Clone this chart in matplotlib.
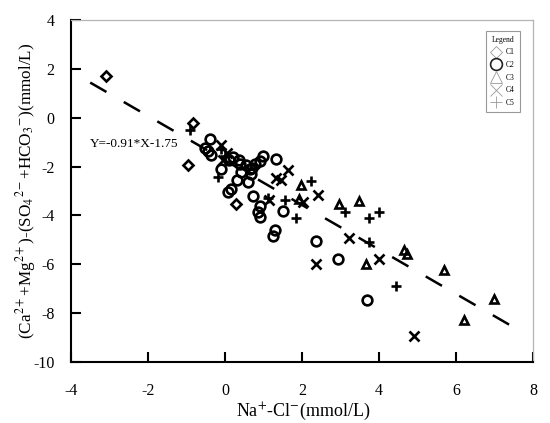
import numpy as np
import matplotlib
matplotlib.use("Agg")
import matplotlib.pyplot as plt
from matplotlib.lines import Line2D

plt.rcParams['font.family'] = ['Liberation Serif', 'DejaVu Serif']
plt.rcParams['mathtext.fontset'] = 'stix'
plt.rcParams['axes.unicode_minus'] = False

# Na+-Cl- (x) vs (Ca+Mg)-(SO4+HCO3) (y)
c1_x = [-3.10, -0.84, -0.95, 0.28]
c1_y = [1.72, -0.23, -1.93, -3.52]

c2_x = [-0.40, -0.53, -0.44, -0.35, 0.21, 0.36, 0.38, 0.42, 0.31, 0.60, 0.17,
        0.08, 0.68, 0.74, -0.09, 0.98, 0.90, 0.77, 1.33, 0.71, 0.10, 0.55,
        0.65, 0.90, 0.85, 0.90, 1.50, 1.29, 1.24, 2.37, 2.93, 3.68]
c2_y = [-0.86, -1.24, -1.37, -1.51, -1.60, -1.74, -1.90, -2.24, -2.55, -2.65, -2.92,
        -3.03, -2.31, -3.20, -2.09, -1.56, -1.76, -1.90, -1.69, -2.04, -1.75, -1.95,
        -2.10, -3.60, -3.85, -4.05, -3.81, -4.60, -4.84, -5.04, -5.77, -7.46]

c3_x = [1.98, 1.92, 2.95, 3.49, 4.66, 4.72, 3.66, 5.69, 6.99, 6.21]
c3_y = [-2.75, -3.33, -3.54, -3.43, -5.42, -5.56, -6.00, -6.24, -7.43, -8.29]

c4_x = [-0.09, -0.05, 0.05, 1.63, 1.33, 1.46, 2.41, 2.02, 1.15, 3.23, 2.37, 3.99, 4.91]
c4_y = [-1.10, -1.75, -1.45, -2.14, -2.45, -2.55, -3.16, -3.45, -3.35, -4.93, -6.00, -5.79, -8.93]

c5_x = [-0.91, -0.18, 2.24, 1.55, 1.85, 3.13, 3.75, 4.00, 3.75, 4.44, -0.10, 0.00, 1.12]
c5_y = [-0.52, -2.43, -2.58, -3.37, -4.09, -3.88, -4.09, -3.88, -5.07, -6.89, -1.30, -1.55, -3.30]

slope = -0.91
intercept = -1.75
fit_x = [-3.5, 7.4]

fig = plt.figure(figsize=(5.5, 4.23), dpi=100)
ax = fig.add_axes([0.129, 0.144, 0.84, 0.809])

mk = dict(linestyle='none', color='black', markerfacecolor='none', markeredgewidth=1.9)
ax.plot(c1_x, c1_y, marker='D', markersize=5, **mk)
ax.plot(c2_x, c2_y, marker='o', markersize=7, **mk)
ax.plot(c3_x, c3_y, marker='^', markersize=6, **mk)
ax.plot(c4_x, c4_y, marker='x', markersize=6.5, **mk)
ax.plot(c5_x, c5_y, marker='+', markersize=7.5, **mk)

# trend line
fx = np.array(fit_x)
ax.plot(fx, slope * fx + intercept, color='black', lw=1.8, dashes=(7.5, 8))
ax.text(-3.5, -1.07, "Y=-0.91*X-1.75", fontsize=9.5, ha='left', va='center')

ax.set_xlim(-4, 8)
ax.set_ylim(-10, 4)
ax.set_xticks(np.arange(-4, 9, 2))
ax.set_yticks(np.arange(-10, 5, 2))
ax.tick_params(direction='in', length=7, width=1.5, labelsize=11.5)
ax.tick_params(axis='x', pad=15)
ax.tick_params(axis='y', pad=12)
for s in ['left', 'bottom']:
    ax.spines[s].set_linewidth(1.5)
for s in ['top', 'right']:
    ax.spines[s].set_color('#b5b5b5')
    ax.spines[s].set_linewidth(0.9)

ax.set_xlabel(r"Na$^{+}$-Cl$^{-}$(mmol/L)", fontsize=13)
ax.xaxis.set_label_coords(0.502, -0.112)
ax.set_ylabel(r"(Ca$^{2+}$+Mg$^{2+}$)-(SO$_{4}$$^{2-}$+HCO$_{3}$$^{-}$)(mmol/L)", fontsize=12.3)
ax.yaxis.set_label_coords(-0.072, 0.5)

handles = [
    Line2D([], [], ls='none', marker='D', ms=6.5, mfc='none', mec='#999999', mew=0.6),
    Line2D([], [], ls='none', marker='o', ms=8.5, mfc='none', mec='#222222', mew=1.2),
    Line2D([], [], ls='none', marker='^', ms=8.5, mfc='none', mec='#999999', mew=0.6),
    Line2D([], [], ls='none', marker='x', ms=8.5, mfc='none', mec='#999999', mew=0.6),
    Line2D([], [], ls='none', marker='+', ms=8.5, mfc='none', mec='#999999', mew=0.6),
]
leg = ax.legend(handles, ['C1', 'C2', 'C3', 'C4', 'C5'], title='Legend',
                loc='upper right', bbox_to_anchor=(0.98, 0.98), fontsize=5.5,
                title_fontsize=5.5, fancybox=False, framealpha=1,
                edgecolor='#999999', labelspacing=0.6, handlelength=1.3,
                handletextpad=0.6, borderpad=0.7)
leg.get_frame().set_linewidth(0.8)

fig.savefig("out.png", dpi=100)
